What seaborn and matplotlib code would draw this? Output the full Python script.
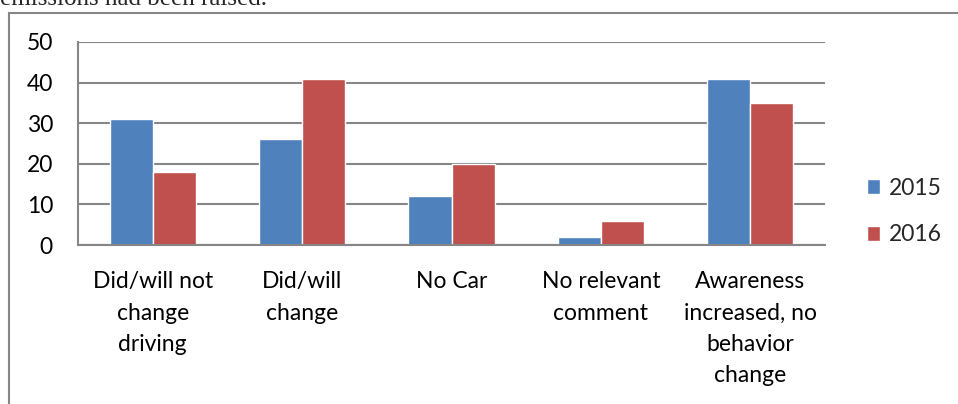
import matplotlib
matplotlib.use("Agg")
import matplotlib.pyplot as plt
import pandas as pd
import seaborn as sns
from matplotlib.patches import Patch, Rectangle
from matplotlib.ticker import FixedLocator

CATEGORIES = [
    "Did/will not\nchange\ndriving",
    "Did/will\nchange",
    "No Car",
    "No relevant\ncomment",
    "Awareness\nincreased, no\nbehavior\nchange",
]
VALUES_2015 = [31, 26, 12, 2, 41]
VALUES_2016 = [18, 41, 20, 6, 35]
YEARS = ["2015", "2016"]
Y_TICKS = [0, 10, 20, 30, 40, 50]

BLUE = "#4F81BD"
RED = "#C0504D"
GRID = "#868686"

W, H = 958, 404
FS = 16.5

sns.set_theme(style="white")
plt.rcParams["font.family"] = ["Lato", "DejaVu Sans"]

df = pd.DataFrame({
    "category": CATEGORIES * 2,
    "value": VALUES_2015 + VALUES_2016,
    "year": [YEARS[0]] * len(CATEGORIES) + [YEARS[1]] * len(CATEGORIES),
})

fig = plt.figure(figsize=(W / 100, H / 100), dpi=100)
fig.patch.set_facecolor("white")

# outer frame of the embedded chart, cut off at the right and bottom
fig.add_artist(Rectangle(
    (8.5 / W, -0.1), 1.2, 1 - 12.5 / H + 0.1,
    transform=fig.transFigure, fill=False, edgecolor=GRID, linewidth=1.5
))

# clipped caption line from the surrounding document
fig.text(0, 1 - 5 / H, "emissions had been raised.", family="Liberation Serif",
         fontsize=18, ha="left", va="baseline")

ax = fig.add_axes([78 / W, 1 - 245 / H, (825 - 78) / W, (245 - 42) / H])

sns.barplot(
    data=df, x="category", y="value", hue="year",
    palette=[BLUE, RED], saturation=1, width=0.576, gap=0,
    order=CATEGORIES, hue_order=YEARS, ax=ax, legend=False,
)

ax.set_xlim(-0.5, len(CATEGORIES) - 0.5)
ax.set_ylim(0, 50)
ax.set_yticks(Y_TICKS)
ax.yaxis.grid(True, color=GRID, linewidth=1.5)
ax.set_axisbelow(True)

for side in ["top", "right"]:
    ax.spines[side].set_visible(False)
for side in ["left", "bottom"]:
    ax.spines[side].set_color(GRID)
    ax.spines[side].set_linewidth(1.5)

ax.tick_params(axis="y", which="major", direction="out", length=6,
               width=1.5, color=GRID, pad=12, labelsize=FS, labelcolor="black")
ax.tick_params(axis="x", which="major", length=0, pad=19, labelsize=FS,
               labelcolor="black")
ax.xaxis.set_minor_locator(FixedLocator(
    [i - 0.5 for i in range(len(CATEGORIES) + 1)]))
ax.tick_params(axis="x", which="minor", direction="out", length=6,
               width=1.5, color=GRID)
for label in ax.get_xticklabels():
    label.set_linespacing(1.6)
    label.set_verticalalignment("top")

ax.set_xlabel("")
ax.set_ylabel("")

handles = [Patch(facecolor=BLUE, label=YEARS[0]),
           Patch(facecolor=RED, label=YEARS[1])]
fig.legend(
    handles=handles, loc="center left",
    bbox_to_anchor=(846 / W, 1 - 211.5 / H),
    frameon=False, fontsize=FS, handlelength=0.6, handleheight=0.6,
    handletextpad=0.35, labelspacing=1.13,
)

fig.savefig("out.png", dpi=100, facecolor="white")
